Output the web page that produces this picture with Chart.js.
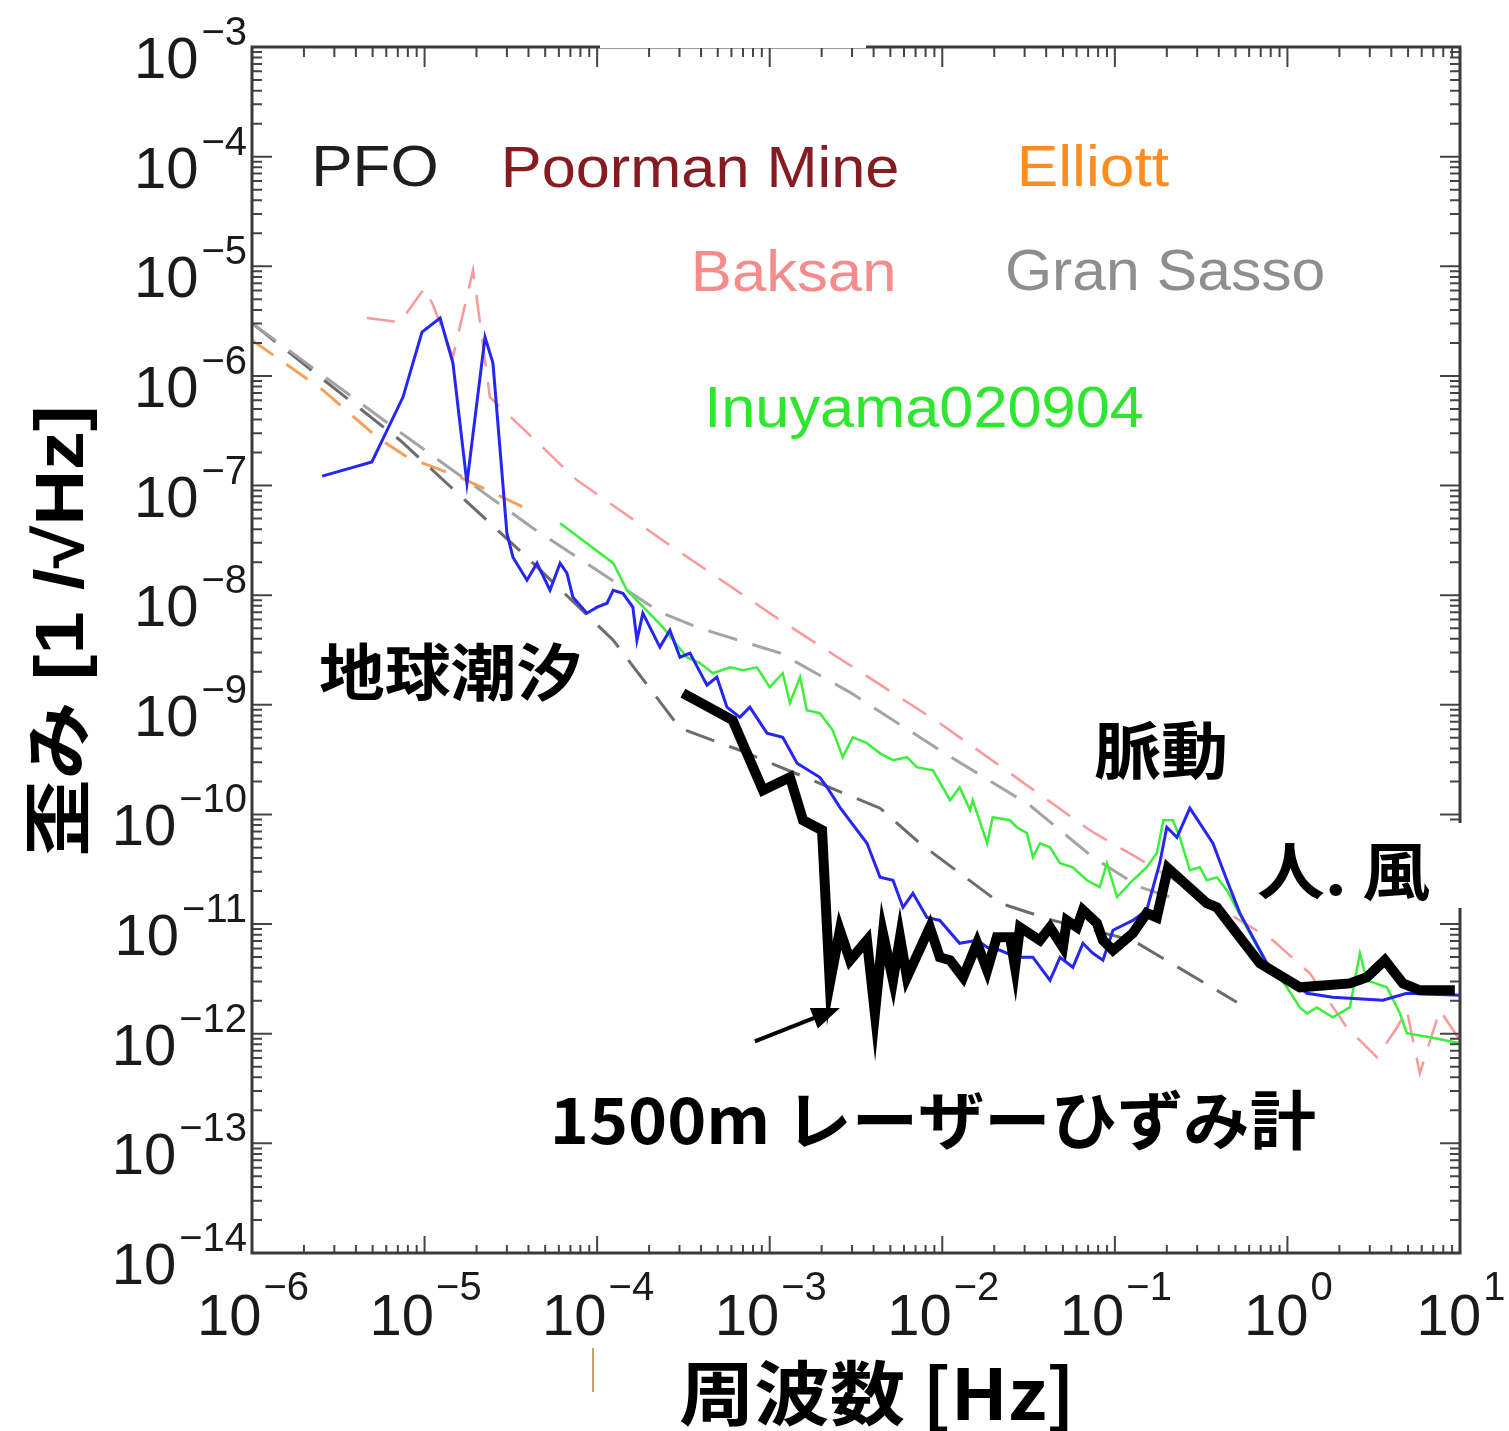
<!DOCTYPE html>
<html>
<head>
<meta charset="utf-8">
<script src="https://cdn.jsdelivr.net/npm/chart.js@4.4.1/dist/chart.umd.min.js"></script>
<style>
html, body { margin: 0; padding: 0; background: #fff; }
canvas { display: block; }
</style>
</head>
<body>
<canvas id="strainChart" width="1509" height="1431"></canvas>
<script>
// values: frequency [Hz] and strain [1/sqrt(Hz)]

// 1500m laser strainmeter (thick black)
var laserFreq = [3.14e-4, 6.1e-4, 9.14e-4, 1.31e-3, 1.56e-3, 2.01e-3, 2.23e-3, 2.55e-3, 2.92e-3, 3.66e-3,
  4.07e-3, 4.53e-3, 5.18e-3, 5.69e-3, 6.24e-3, 8.47e-3, 9.68e-3, 1.11e-2, 1.32e-2, 1.59e-2,
  1.82e-2, 2.07e-2, 2.47e-2, 2.64e-2, 2.82e-2, 3.68e-2, 4.21e-2, 5.0e-2, 5.27e-2, 6.03e-2,
  6.53e-2, 7.87e-2, 8.53e-2, 9.75e-2, 0.127, 0.153, 0.175, 0.203, 0.341, 0.39,
  0.692, 1.18, 2.3, 2.88, 3.67, 4.67, 5.85, 9.33];
var laserStrain = [1.28e-9, 7.24e-10, 1.66e-10, 2.18e-10, 8.85e-11, 7.18e-11, 2.88e-12, 8.79e-12, 4.68e-12, 7.11e-12,
  1.53e-12, 8.24e-12, 3.07e-12, 7.59e-12, 3.27e-12, 9.35e-12, 4.98e-12, 4.68e-12, 3.27e-12, 6.68e-12,
  3.79e-12, 7.59e-12, 7.59e-12, 4.04e-12, 9.35e-12, 7.11e-12, 9.35e-12, 6.14e-12, 1.08e-11, 9.35e-12,
  1.34e-11, 1.02e-11, 7.11e-12, 5.77e-12, 8.24e-12, 1.26e-11, 1.15e-11, 3.23e-11, 1.55e-11, 1.42e-11,
  4.39e-12, 2.65e-12, 2.88e-12, 3.27e-12, 4.68e-12, 2.88e-12, 2.49e-12, 2.49e-12];

// blue spectrum
var blueFreq = [2.55e-6, 4.95e-6, 7.5e-6, 9.66e-6, 1.23e-5, 1.46e-5, 1.76e-5, 2.24e-5, 2.49e-5, 3.0e-5,
  3.25e-5, 3.92e-5, 4.48e-5, 5.33e-5, 6.1e-5, 6.68e-5, 7.24e-5, 8.73e-5, 1.0e-4, 1.14e-4,
  1.24e-4, 1.41e-4, 1.61e-4, 1.7e-4, 1.84e-4, 2.31e-4, 2.64e-4, 3.02e-4, 3.45e-4, 4.33e-4,
  4.94e-4, 5.65e-4, 6.71e-4, 7.67e-4, 9.64e-4, 1.19e-3, 1.44e-3, 1.95e-3, 2.15e-3, 2.55e-3,
  3.66e-3, 4.36e-3, 5.18e-3, 5.92e-3, 6.76e-3, 8.15e-3, 9.68e-3, 1.26e-2, 1.59e-2, 1.82e-2,
  2.16e-2, 2.7e-2, 3.35e-2, 4.21e-2, 4.81e-2, 5.71e-2, 6.53e-2, 7.46e-2, 8.53e-2, 9.75e-2,
  0.127, 0.153, 0.182, 0.2, 0.229, 0.272, 0.37, 0.446, 0.53, 0.76,
  1.3, 1.83, 3.57, 4.92, 10];
var blueStrain = [1.22e-7, 1.64e-7, 6.41e-7, 2.51e-6, 3.37e-6, 1.31e-6, 1.05e-7, 2.26e-6, 1.31e-6, 3.68e-8,
  2.22e-8, 1.37e-8, 1.96e-8, 1.11e-8, 1.96e-8, 1.59e-8, 9.59e-9, 6.85e-9, 7.78e-9, 8.45e-9,
  1.11e-8, 1.04e-8, 7.78e-9, 3.88e-9, 6.85e-9, 3.36e-9, 4.8e-9, 2.72e-9, 2.96e-9, 1.51e-9,
  1.79e-9, 9.51e-10, 7.71e-10, 9.51e-10, 5.51e-10, 5.06e-10, 2.93e-10, 2.18e-10, 1.77e-10, 1.16e-10,
  5.46e-11, 2.67e-11, 2.51e-11, 1.42e-11, 1.91e-11, 1.15e-11, 1.08e-11, 6.68e-12, 7.11e-12, 6.14e-12,
  5.77e-12, 4.98e-12, 4.98e-12, 3.07e-12, 4.98e-12, 4.04e-12, 6.68e-12, 5.42e-12, 4.68e-12, 8.79e-12,
  1.08e-11, 1.34e-11, 3.59e-11, 7.64e-11, 6.19e-11, 1.14e-10, 5.46e-11, 2.51e-11, 1.26e-11, 4.39e-12,
  2.34e-12, 2.15e-12, 2.02e-12, 2.34e-12, 2.24e-12];

// Inuyama020904 (green)
var inuyamaFreq = [6.1e-5, 1.24e-4, 1.49e-4, 2.4e-4, 3.31e-4, 3.94e-4, 4.69e-4, 5.89e-4, 7.0e-4, 8.43e-4,
  1.0e-3, 1.19e-3, 1.31e-3, 1.5e-3, 1.64e-3, 1.95e-3, 2.32e-3, 2.65e-3, 3.03e-3, 3.66e-3,
  4.36e-3, 5.18e-3, 6.24e-3, 7.13e-3, 8.83e-3, 1.11e-2, 1.26e-2, 1.45e-2, 1.5e-2, 1.82e-2,
  1.96e-2, 2.47e-2, 2.7e-2, 3.09e-2, 3.35e-2, 3.68e-2, 4.21e-2, 4.81e-2, 5.71e-2, 6.89e-2,
  8.18e-2, 8.99e-2, 0.103, 0.127, 0.153, 0.175, 0.191, 0.217, 0.238, 0.272,
  0.311, 0.341, 0.39, 0.446, 0.552, 0.721, 0.993, 1.18, 1.3, 1.48,
  1.83, 2.3, 2.63, 2.88, 3.77, 4.49, 4.92, 6.68, 10];
var inuyamaStrain = [4.54e-8, 1.96e-8, 1.11e-8, 5.11e-9, 2.72e-9, 2.4e-9, 1.94e-9, 2.2e-9, 2.07e-9, 2.2e-9,
  1.45e-9, 1.94e-9, 1.04e-9, 1.79e-9, 8.93e-10, 8.38e-10, 5.86e-10, 3.33e-10, 5.06e-10, 4.47e-10,
  3.61e-10, 3.13e-10, 3.33e-10, 2.7e-10, 2.53e-10, 1.35e-10, 1.77e-10, 1.09e-10, 1.35e-10, 5.46e-11,
  9.44e-11, 8.85e-11, 7.64e-11, 6.75e-11, 4.07e-11, 5.46e-11, 5.02e-11, 3.59e-11, 3.3e-11, 2.51e-11,
  2.17e-11, 3.59e-11, 1.76e-11, 2.51e-11, 3.3e-11, 4.43e-11, 8.85e-11, 8.85e-11, 6.19e-11, 3.1e-11,
  3.3e-11, 2.51e-11, 2.67e-11, 2.04e-11, 1.08e-11, 4.98e-12, 2.65e-12, 1.74e-12, 1.53e-12, 1.74e-12,
  1.41e-12, 1.74e-12, 5.42e-12, 3.07e-12, 2.65e-12, 1.53e-12, 1.01e-12, 9.27e-13, 8.17e-13];

// Baksan (pink dashed)
var baksanFreq = [4.63e-6, 7.21e-6, 1.0e-5, 1.12e-5, 1.46e-5, 1.91e-5, 2.39e-5, 7.64e-5, 2.54e-4, 1.15e-3,
  9.68e-3, 2.47e-2, 7.16e-2, 0.153, 0.53, 0.824, 1.35, 2.21, 3.3, 4.31, 4.92, 5.85, 7.64, 10];
var baksanStrain = [3.37e-6, 3.1e-6, 6.32e-6, 4.43e-6, 1.49e-6, 9.23e-6, 6.41e-7, 1.12e-7, 2.98e-8, 5.92e-9,
  6.79e-10, 2.38e-10, 7.18e-11, 3.59e-11, 1.08e-11, 7.11e-12, 3.56e-12, 1.14e-12, 6.1e-13, 1.14e-12,
  1.64e-12, 4.36e-13, 1.64e-12, 8.71e-13];

// Elliott (orange dashed)
var elliottFreq = [1e-6, 2.58e-6, 5.3e-6, 7.91e-6, 1.6e-5, 4.08e-5];
var elliottStrain = [2.12e-6, 7.41e-7, 2.77e-7, 1.82e-7, 1.19e-7, 5.97e-8];

// Gran Sasso (light grey dashed)
var sassoFreq = [1e-6, 7.21e-6, 1.4e-5, 4.25e-5, 1.04e-4, 2.31e-4, 3.94e-4, 1.15e-3, 2.92e-3, 9.68e-3,
  3.22e-2, 7.46e-2, 0.14, 0.238];
var sassoStrain = [3.03e-6, 3.07e-7, 1.44e-7, 4.08e-8, 1.62e-8, 7.0e-9, 5.0e-9, 2.96e-9, 1.3e-9, 3.85e-10,
  1.21e-10, 4.07e-11, 2.17e-11, 1.65e-11];

// PFO (dark grey dashed)
var pfoFreq = [1e-6, 7.21e-6, 3.92e-5, 1.24e-4, 3.02e-4, 6.71e-4, 1.5e-3, 4.36e-3, 7.41e-3, 2.16e-2,
  4.38e-2, 0.127, 0.509];
var pfoStrain = [3.03e-6, 2.59e-7, 2.22e-8, 3.88e-9, 6.12e-10, 3.85e-10, 2.28e-10, 1.14e-10, 5.46e-11, 1.55e-11,
  1.08e-11, 7.11e-12, 1.94e-12];

// axis decades (tick labels are 10^n)
var xExponents = [-6, -5, -4, -3, -2, -1, 0, 1];
var yExponents = [-3, -4, -5, -6, -7, -8, -9, -10, -11, -12, -13, -14];

// arrow pointing at the laser curve
var arrowFrom = [8.2e-4, 8.53e-13];
var arrowTo = [2.55e-3, 1.72e-12];

function pts(xs, ys) {
  return xs.map(function (x, i) { return { x: x, y: ys[i] }; });
}

function expText(e) {
  return e < 0 ? '\u2212' + (-e) : String(e);
}

// draw text so its ink is centred on (cx, cy) and spans width w
function fitText(ctx, str, cx, cy, w, font, color) {
  ctx.save();
  ctx.font = font;
  ctx.fillStyle = color;
  ctx.textAlign = 'left';
  ctx.textBaseline = 'alphabetic';
  var m = ctx.measureText(str);
  var inkW = m.actualBoundingBoxLeft + m.actualBoundingBoxRight;
  var s = w / inkW;
  var base = cy + (m.actualBoundingBoxAscent - m.actualBoundingBoxDescent) / 2;
  ctx.translate(cx - w / 2, base);
  ctx.scale(s, 1);
  ctx.fillText(str, m.actualBoundingBoxLeft, 0);
  ctx.restore();
}

var baseFont = '58px "Liberation Sans", Arial, sans-serif';
var expFont = '40px "Liberation Sans", Arial, sans-serif';
var jpFont = function (px) { return 'bold ' + px + 'px "Noto Sans CJK JP", sans-serif'; };

var framePlugin = {
  id: 'frame',
  afterDatasetsDraw: function (chart) {
    var ctx = chart.ctx, a = chart.chartArea;
    var xs = chart.scales.x, ys = chart.scales.y;
    ctx.save();

    // ticks
    ctx.strokeStyle = '#444';
    ctx.lineWidth = 2;
    ctx.beginPath();
    for (var e = -6; e <= 1; e++) {
      for (var m = 1; m < 10; m++) {
        if (e === 1 && m > 1) break;
        var px = xs.getPixelForValue(m * Math.pow(10, e));
        var big = m === 1;
        ctx.moveTo(px, a.bottom); ctx.lineTo(px, a.bottom - (big ? 17 : 8));
        ctx.moveTo(px, a.top); ctx.lineTo(px, a.top + (big ? 20 : 10));
      }
    }
    for (var e2 = -14; e2 <= -3; e2++) {
      for (var m2 = 1; m2 < 10; m2++) {
        if (e2 === -3 && m2 > 1) break;
        var py = ys.getPixelForValue(m2 * Math.pow(10, e2));
        var big2 = m2 === 1;
        ctx.moveTo(a.left, py); ctx.lineTo(a.left + (big2 ? 20 : 10), py);
        ctx.moveTo(a.right, py); ctx.lineTo(a.right - (big2 ? 20 : 10), py);
      }
    }
    ctx.stroke();

    // frame
    ctx.lineWidth = 3;
    ctx.strokeStyle = '#3a3a3a';
    ctx.strokeRect(a.left, a.top, a.right - a.left, a.bottom - a.top);

    // white patches in the original picture
    ctx.fillStyle = '#fff';
    ctx.fillRect(600, 38, 266, 10);
    ctx.fillRect(1248, 823, 261, 85);
    ctx.strokeStyle = '#c9a46a';
    ctx.lineWidth = 2;
    ctx.beginPath(); ctx.moveTo(593, 1348); ctx.lineTo(593, 1392); ctx.stroke();

    // tick labels 10^n
    ctx.fillStyle = '#1a1a1a';
    ctx.textBaseline = 'alphabetic';
    xExponents.forEach(function (e) {
      var px = xs.getPixelForValue(Math.pow(10, e));
      ctx.font = baseFont;
      var wb = ctx.measureText('10').width;
      ctx.font = expFont;
      var we = ctx.measureText(expText(e)).width;
      var left = px - (wb + we) / 2;
      ctx.font = baseFont; ctx.textAlign = 'left';
      ctx.fillText('10', left, a.bottom + 82);
      ctx.font = expFont;
      ctx.fillText(expText(e), left + wb + 2, a.bottom + 47);
    });
    yExponents.forEach(function (e) {
      var py = ys.getPixelForValue(Math.pow(10, e));
      ctx.font = expFont; ctx.textAlign = 'right';
      var we = ctx.measureText(expText(e)).width;
      ctx.fillText(expText(e), 247, py - 2);
      ctx.font = baseFont;
      ctx.fillText('10', 247 - we - 3, py + 31);
    });

    // arrow
    var x0 = xs.getPixelForValue(arrowFrom[0]), y0 = ys.getPixelForValue(arrowFrom[1]);
    var x1 = xs.getPixelForValue(arrowTo[0]), y1 = ys.getPixelForValue(arrowTo[1]);
    var ang = Math.atan2(y1 - y0, x1 - x0);
    ctx.strokeStyle = '#000'; ctx.fillStyle = '#000'; ctx.lineWidth = 4;
    ctx.beginPath();
    ctx.moveTo(x0, y0);
    ctx.lineTo(x1 - 20 * Math.cos(ang), y1 - 20 * Math.sin(ang));
    ctx.stroke();
    ctx.beginPath();
    ctx.moveTo(x1, y1);
    ctx.lineTo(x1 - 28 * Math.cos(ang) + 11 * Math.sin(ang), y1 - 28 * Math.sin(ang) - 11 * Math.cos(ang));
    ctx.lineTo(x1 - 28 * Math.cos(ang) - 11 * Math.sin(ang), y1 - 28 * Math.sin(ang) + 11 * Math.cos(ang));
    ctx.closePath();
    ctx.fill();

    // legend words
    fitText(ctx, 'PFO', 376, 166, 121, baseFont, '#1e1e1e');
    fitText(ctx, 'Poorman Mine', 701, 166, 392, baseFont, '#861b22');
    fitText(ctx, 'Elliott', 1095, 165, 148, baseFont, '#ff8c1f');
    fitText(ctx, 'Baksan', 794, 270, 198, baseFont, '#f58b8b');
    fitText(ctx, 'Gran Sasso', 1165, 270, 316, baseFont, '#8e8e8e');
    fitText(ctx, 'Inuyama020904', 926, 412, 433, baseFont, '#2ee62e');

    // annotations
    fitText(ctx, '地球潮汐', 450, 672, 260, jpFont(62), '#000');
    fitText(ctx, '脈動', 1160, 750, 130, jpFont(62), '#000');
    fitText(ctx, '人. 風', 1344, 872, 172, jpFont(62), '#000');
    fitText(ctx, '1500m レーザーひずみ計', 935, 1120, 760, jpFont(64), '#000');

    // axis titles
    fitText(ctx, '周波数 [Hz]', 874, 1395, 388, jpFont(70), '#000');
    ctx.save();
    ctx.translate(62, 632);
    ctx.rotate(-Math.PI / 2);
    fitText(ctx, '歪み [1 /√Hz]', 0, 0, 445, 'bold 68px "Liberation Sans", "Noto Sans CJK JP", sans-serif', '#000');
    ctx.restore();

    ctx.restore();
  }
};

var ctx = document.getElementById('strainChart').getContext('2d');
var chart = new Chart(ctx, {
  type: 'line',
  data: {
    datasets: [{
      label: '1500m',
      data: pts(laserFreq, laserStrain),
      borderColor: '#000',
      borderWidth: 10,
      borderJoinStyle: 'miter',
      order: 0
    }, {
      label: 'blue',
      data: pts(blueFreq, blueStrain),
      borderColor: '#2626f0',
      borderWidth: 3,
      order: 1
    }, {
      label: 'Inuyama020904',
      data: pts(inuyamaFreq, inuyamaStrain),
      borderColor: '#3cef3c',
      borderWidth: 2.5,
      order: 2
    }, {
      label: 'Baksan',
      data: pts(baksanFreq, baksanStrain),
      borderColor: 'rgba(248,128,128,0.8)',
      borderWidth: 2.5,
      borderDash: [28, 16],
      order: 3
    }, {
      label: 'Gran Sasso',
      data: pts(sassoFreq, sassoStrain),
      borderColor: '#a4a4a4',
      borderWidth: 3,
      borderDash: [30, 16],
      order: 4
    }, {
      label: 'PFO',
      data: pts(pfoFreq, pfoStrain),
      borderColor: '#6c6c6c',
      borderWidth: 3,
      borderDash: [30, 16],
      order: 5
    }, {
      label: 'Elliott',
      data: pts(elliottFreq, elliottStrain),
      borderColor: '#f7a05a',
      borderWidth: 3,
      borderDash: [26, 16],
      order: 6
    }]
  },
  options: {
    responsive: false,
    animation: false,
    layout: { padding: { left: 252, right: 49, top: 47, bottom: 178 } },
    elements: { point: { radius: 0 }, line: { tension: 0, fill: false } },
    scales: {
      x: { type: 'logarithmic', min: 1e-6, max: 10, display: false },
      y: { type: 'logarithmic', min: 1e-14, max: 1e-3, display: false }
    },
    plugins: { legend: { display: false }, tooltip: { enabled: false } }
  },
  plugins: [framePlugin]
});
</script>
</body>
</html>
